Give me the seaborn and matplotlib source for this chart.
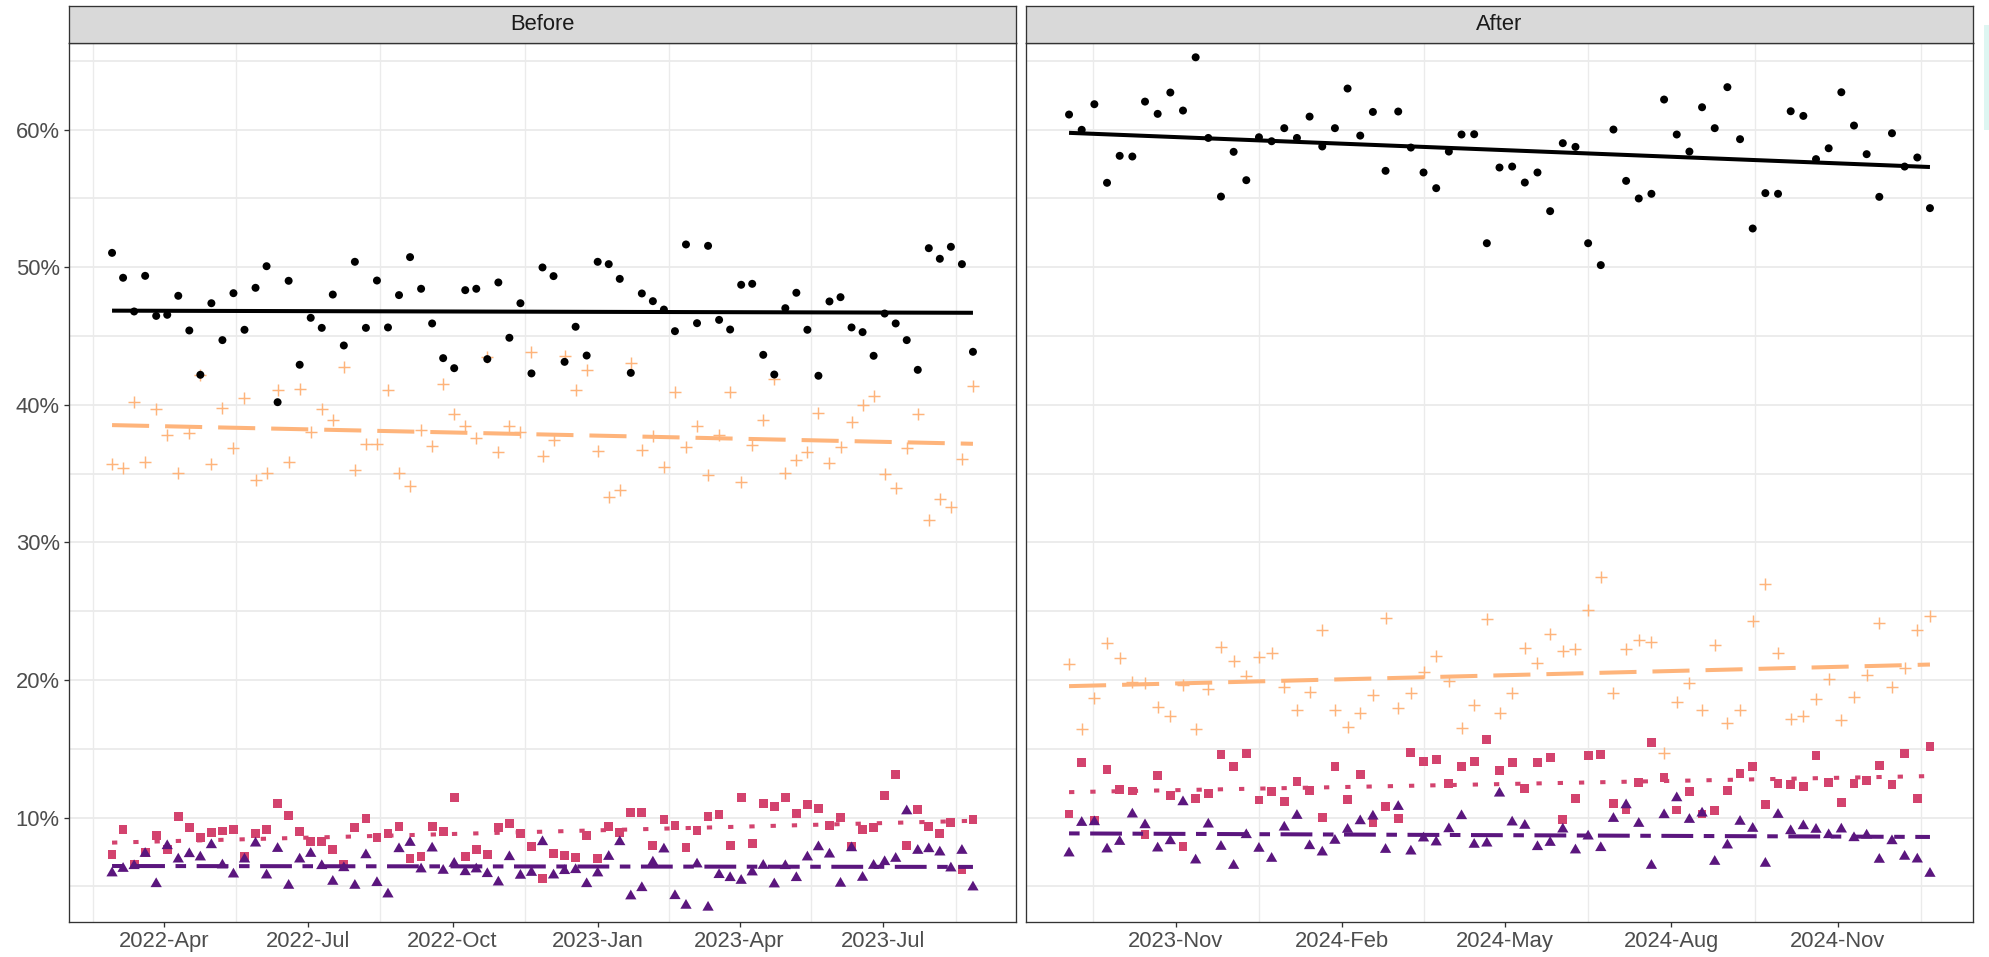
import numpy as np
import pandas as pd
import matplotlib
matplotlib.use("Agg")
import matplotlib.pyplot as plt
import matplotlib.dates as mdates
from matplotlib.patches import Rectangle
import seaborn as sns

# ---------------------------------------------------------------- data (percent)
before_start = "2022-02-27"   # weekly observations
after_start = "2023-09-03"

before_black = [51.04, 49.23, 46.78, 49.37, 46.46, 46.54, 47.92, 45.40, 42.18, 47.38,
                44.70, 48.11, 45.45, 48.50, 50.07, 40.19, 49.01, 42.91, 46.32, 45.59,
                48.01, 44.31, 50.39, 45.59, 49.03, 45.62, 47.97, 50.73, 48.43, 45.91,
                43.39, 42.66, 48.33, 48.43, 43.32, 48.89, 44.87, 47.38, 42.28, 49.98,
                49.35, 43.12, 45.67, 43.58, 50.39, 50.22, 49.15, 42.32, 48.09, 47.53,
                46.92, 45.35, 51.65, 45.93, 51.55, 46.17, 45.47, 48.72, 48.79, 43.63,
                42.20, 47.02, 48.14, 45.45, 42.11, 47.51, 47.82, 45.62, 45.28, 43.56,
                46.63, 45.91, 44.70, 42.54, 51.38, 50.61, 51.48, 50.22, 43.85]
before_orange = [35.71, 35.38, 40.17, 35.84, 39.66, 37.80, 35.01, 37.97, 42.18, 35.67,
                 39.78, 36.88, 40.48, 34.50, 35.01, 41.04, 35.84, 41.16, 38.04, 39.66,
                 38.93, 42.78, 35.28, 37.17, 37.17, 41.11, 35.01, 34.07, 38.18, 36.97,
                 41.48, 39.30, 38.43, 37.60, 43.46, 36.59, 38.45, 38.04, 43.80, 36.25,
                 37.41, 43.56, 41.04, 42.54, 36.63, 33.29, 33.78, 43.03, 36.68, 37.72,
                 35.50, 40.94, 36.90, 38.45, 34.92, 37.77, 40.94, 34.36, 37.05, 38.86,
                 41.84, 35.01, 35.98, 36.54, 39.42, 35.74, 36.93, 38.72, 39.95, 40.65,
                 34.96, 33.95, 36.85, 39.30, 31.62, 33.15, 32.59, 36.03, 41.36]
before_pink = [7.34, 9.15, 6.62, 7.46, 8.72, 7.71, 10.10, 9.30, 8.57, 8.94,
               9.03, 9.15, 7.17, 8.86, 9.15, 11.04, 10.17, 9.01, 8.26, 8.29,
               7.71, 6.64, 9.30, 9.95, 8.57, 8.86, 9.37, 7.05, 7.20, 9.37,
               9.01, 11.47, 7.20, 7.71, 7.34, 9.30, 9.59, 8.86, 7.92, 5.60,
               7.42, 7.27, 7.13, 8.72, 7.05, 9.37, 8.94, 10.39, 10.39, 8.00,
               9.88, 9.44, 7.85, 9.08, 10.10, 10.24, 8.00, 11.47, 8.14, 11.04,
               10.82, 11.47, 10.31, 10.97, 10.68, 9.44, 10.02, 7.92, 9.15, 9.30,
               11.62, 13.14, 8.00, 10.60, 9.37, 8.86, 9.66, 6.26, 9.88]
before_purple = [5.97, 6.30, 6.50, 7.39, 5.19, 7.95, 6.98, 7.37, 7.13, 8.02,
                 6.55, 5.89, 6.98, 8.14, 5.82, 7.75, 5.07, 6.98, 7.39, 6.50,
                 5.36, 6.35, 5.07, 7.29, 5.27, 4.44, 7.73, 8.19, 6.26, 7.78,
                 6.16, 6.67, 6.06, 6.26, 5.92, 5.31, 7.15, 5.80, 6.01, 8.24,
                 5.82, 6.14, 6.21, 5.19, 5.97, 7.17, 8.24, 4.30, 4.90, 6.76,
                 7.71, 4.32, 3.62, 6.62, 3.48, 5.85, 5.63, 5.43, 6.04, 6.52,
                 5.17, 6.50, 5.63, 7.13, 7.87, 7.34, 5.22, 7.80, 5.65, 6.52,
                 6.79, 7.03, 10.48, 7.61, 7.73, 7.49, 6.33, 7.61, 4.95]

after_black = [61.09, 59.98, 61.84, 56.13, 58.09, 58.04, 62.03, 61.14, 62.69, 61.38,
               65.25, 59.39, 55.13, 58.38, 56.32, 59.44, 59.15, 60.10, 59.39, 60.94,
               58.77, 60.10, 62.98, 59.56, 61.28, 57.00, 61.31, 58.69, 56.88, 55.74,
               58.40, 59.64, 59.66, 51.74, 57.24, 57.31, 56.15, 56.88, 54.07, 59.01,
               58.74, 51.74, 50.15, 60.00, 56.27, 54.99, 55.33, 62.18, 59.64, 58.40,
               61.62, 60.10, 63.08, 59.30, 52.81, 55.38, 55.33, 61.33, 60.99, 57.85,
               58.64, 62.71, 60.29, 58.21, 55.11, 59.73, 57.31, 57.97, 54.29]
after_orange = [21.20, 16.44, 18.71, 22.70, 21.59, 19.85, 19.75, 18.04, 17.36, 19.61,
                16.41, 19.32, 22.41, 21.40, 20.31, 21.64, 21.95, 19.46, 17.84, 19.12,
                23.65, 17.82, 16.56, 17.58, 18.93, 24.49, 17.99, 19.05, 20.62, 21.78,
                19.90, 16.54, 18.20, 24.44, 17.60, 19.03, 22.34, 21.23, 23.38, 22.12,
                22.22, 25.12, 27.49, 19.05, 22.24, 22.92, 22.75, 14.67, 18.42, 19.82,
                17.79, 22.58, 16.90, 17.79, 24.27, 27.01, 21.93, 17.19, 17.36, 18.59,
                20.11, 17.07, 18.76, 20.36, 24.11, 19.53, 20.89, 23.67, 24.64]
after_pink = [10.27, 14.02, 9.81, 13.51, 12.06, 11.94, 8.80, 13.08, 11.63, 7.93,
              11.41, 11.77, 14.60, 13.73, 14.67, 11.29, 11.92, 11.19, 12.64, 11.99,
              10.03, 13.73, 11.34, 13.15, 9.62, 10.83, 9.96, 14.75, 14.09, 14.24,
              12.50, 13.73, 14.09, 15.69, 13.44, 14.02, 12.13, 14.02, 14.38, 9.84,
              11.41, 14.53, 14.60, 11.05, 10.56, 12.57, 15.47, 12.93, 10.56, 11.92,
              10.27, 10.54, 11.99, 13.22, 13.73, 10.97, 12.50, 12.42, 12.28, 14.53,
              12.57, 11.12, 12.50, 12.71, 13.80, 12.42, 14.67, 11.41, 15.18]
after_purple = [7.42, 9.64, 9.69, 7.71, 8.26, 10.25, 9.47, 7.78, 8.31, 11.14,
                6.91, 9.52, 7.90, 6.52, 8.75, 7.76, 7.03, 9.30, 10.15, 7.95,
                7.49, 8.34, 9.14, 9.76, 10.10, 7.68, 10.80, 7.56, 8.51, 8.22,
                9.18, 10.13, 8.05, 8.14, 11.77, 9.67, 9.43, 7.88, 8.19, 9.16,
                7.64, 8.65, 7.81, 9.93, 10.92, 9.57, 6.52, 10.20, 11.43, 9.86,
                10.32, 6.81, 8.00, 9.72, 9.21, 6.67, 10.22, 9.04, 9.40, 9.14,
                8.75, 9.16, 8.53, 8.72, 6.96, 8.31, 7.18, 6.98, 5.94]

panel_titles = ["Before", "After"]
before_breaks = ["2022-04-01", "2022-07-01", "2022-10-01", "2023-01-01", "2023-04-01", "2023-07-01"]
after_breaks = ["2023-11-01", "2024-02-01", "2024-05-01", "2024-08-01", "2024-11-01"]
y_breaks = [10, 20, 30, 40, 50, 60]
y_minor = [5, 15, 25, 35, 45, 55, 65]


def long_frame(start, black, orange, pink, purple):
    dates = pd.date_range(start, periods=len(black), freq="7D")
    t = mdates.date2num(dates.to_pydatetime())
    parts = []
    for name, vals in [("orange", orange), ("pink", pink), ("purple", purple), ("black", black)]:
        parts.append(pd.DataFrame({"t": t, "value": vals, "series": name}))
    return pd.concat(parts, ignore_index=True)


frames = [long_frame(before_start, before_black, before_orange, before_pink, before_purple),
          long_frame(after_start, after_black, after_orange, after_pink, after_purple)]
breaks = [before_breaks, after_breaks]

# ---------------------------------------------------------------- styling
tri = [(0.0, 1.0), (-0.866, -0.5), (0.866, -0.5)]
styles = {
    "orange": dict(color="#FEB47B", marker="+", s=85, lw=1.05, ls=(0, (26.7, 11.5))),
    "pink":   dict(color="#D3436E", marker="s", s=40, lw=0, ls=(0, (3.8, 11.5))),
    "purple": dict(color="#5B167E", marker=tri, s=88, lw=0, ls=(0, (7.6, 7.6, 22.9, 7.6))),
    "black":  dict(color="#000000", marker="o", s=33, lw=0, ls="-"),
}

sns.set_theme(style="white")
plt.rcParams["font.family"] = ["Liberation Sans", "DejaVu Sans"]
plt.rcParams["lines.scale_dashes"] = False

W, H = 1990, 957
fig = plt.figure(figsize=(W / 100, H / 100), dpi=100)
fig.patch.set_facecolor("white")


def box(x0, y0, x1, y1):
    return [x0 / W, 1 - y1 / H, (x1 - x0) / W, (y1 - y0) / H]


panel_x = [(69, 1016), (1026, 1973)]
ylim = (2.42, 66.31)
frame_col = "#333333"
grid_col = "#EBEBEB"
label_size = 15.8

for k, (df, title, brk, (x0, x1)) in enumerate(zip(frames, panel_titles, breaks, panel_x)):
    ax = fig.add_axes(box(x0, 42.7, x1, 922))
    ax.set_facecolor("white")

    tmin, tmax = df["t"].min(), df["t"].max()
    pad = 0.05 * (tmax - tmin)
    xlim = (tmin - pad, tmax + pad)

    # grid: horizontal at major and minor percent steps, vertical between date breaks
    for yv in y_breaks + y_minor:
        ax.axhline(yv, color=grid_col, lw=1.3, zorder=0)
    bdates = pd.to_datetime(brk)
    ext = list(bdates - pd.DateOffset(months=3))[:1] + list(bdates) + list(bdates + pd.DateOffset(months=3))[-1:]
    ext_num = mdates.date2num([d.to_pydatetime() for d in ext])
    mids = (ext_num[:-1] + ext_num[1:]) / 2
    for xv in mids:
        if xlim[0] < xv < xlim[1]:
            ax.axvline(xv, color=grid_col, lw=1.0, zorder=0)

    for name in ["orange", "pink", "purple", "black"]:
        st = styles[name]
        sub = df[df["series"] == name]
        sns.scatterplot(x=sub["t"].values, y=sub["value"].values, ax=ax, color=st["color"],
                        marker=st["marker"], s=st["s"], linewidth=st["lw"],
                        edgecolor=st["color"] if name == "orange" else "none",
                        legend=False, zorder=3)
    for name in ["orange", "pink", "purple", "black"]:
        st = styles[name]
        sub = df[df["series"] == name]
        sns.regplot(x=sub["t"].values, y=sub["value"].values, ax=ax, scatter=False, ci=None,
                    color=st["color"],
                    line_kws=dict(lw=2.9, ls=st["ls"], dash_capstyle="butt",
                                  solid_capstyle="butt", zorder=4))

    ax.set_xlim(*xlim)
    ax.set_ylim(*ylim)
    ax.set_xlabel("")
    ax.set_ylabel("")
    ax.grid(False)

    ax.set_xticks(mdates.date2num([d.to_pydatetime() for d in bdates]))
    ax.xaxis.set_major_formatter(mdates.DateFormatter("%Y-%b"))
    ax.set_yticks(y_breaks)
    if k == 0:
        ax.set_yticklabels([f"{v}%" for v in y_breaks])
        ax.tick_params(axis="y", left=True, length=3.6, width=0.95, color=frame_col,
                       labelsize=label_size, labelcolor="#4D4D4D", pad=3)
    else:
        ax.tick_params(axis="y", left=False, labelleft=False)
    ax.tick_params(axis="x", bottom=True, length=3.6, width=0.95, color=frame_col,
                   labelsize=label_size, labelcolor="#4D4D4D", pad=3)
    for sp in ax.spines.values():
        sp.set_visible(True)
        sp.set_color(frame_col)
        sp.set_linewidth(0.95)

    # facet strip
    sx = fig.add_axes(box(x0, 6, x1, 42.7))
    sx.set_facecolor("#D9D9D9")
    sx.set_xticks([])
    sx.set_yticks([])
    for sp in sx.spines.values():
        sp.set_visible(True)
        sp.set_color(frame_col)
        sp.set_linewidth(0.95)
    sx.text(0.5, 0.5, title, ha="center", va="center", fontsize=label_size, color="#1A1A1A",
            transform=sx.transAxes)

# faint cyan glow at the right edge
fig.patches.append(Rectangle((1984 / W, 1 - 130 / H), 6 / W, 105 / H, transform=fig.transFigure,
                             facecolor="#D6F4EF", edgecolor="none", alpha=0.8))

fig.savefig("out.png", dpi=100, facecolor="white")
